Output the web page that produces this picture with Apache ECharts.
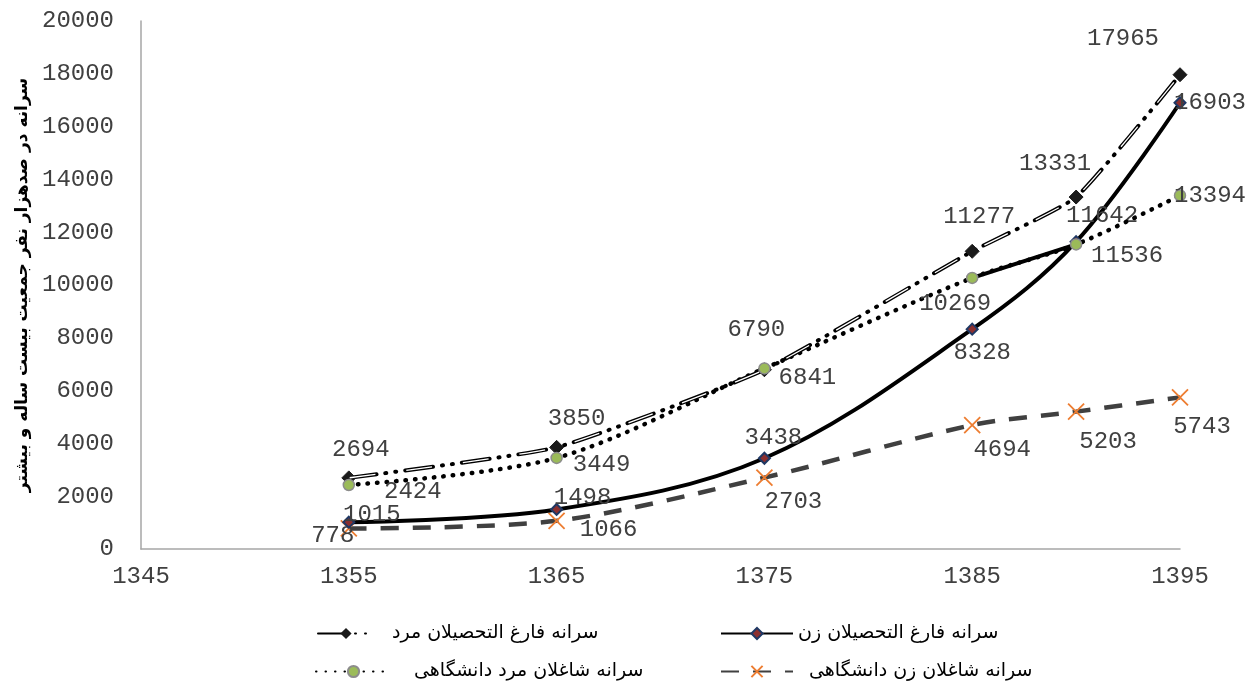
<!DOCTYPE html>
<html>
<head>
<meta charset="utf-8">
<script src="https://cdn.jsdelivr.net/npm/echarts@6/dist/echarts.min.js"></script>
<style>html,body{margin:0;padding:0;background:#fff}#c{width:1257px;height:684px}</style>
</head>
<body>
<div id="c"></div>
<script>
const years = [1355, 1365, 1375, 1385, 1390, 1395];
const maleGrad = [2694, 3850, 6790, 11277, 13331, 17965];
const femaleGrad = [1015, 1498, 3438, 8328, 11642, 16903];
const maleStaff = [2424, 3449, 6841, 10269, 11536, 13394];
const femaleStaff = [778, 1066, 2703, 4694, 5203, 5743];
const names = ['سرانه فارغ التحصیلان مرد', 'سرانه فارغ التحصیلان زن', 'سرانه شاغلان مرد دانشگاهی', 'سرانه شاغلان زن دانشگاهی'];
const yTitle = 'سرانه در صدهزار نفر جمعیت بیست ساله و بیشتر';

// label offsets (styling)
const offMaleGrad = [[12,-28],[20,-29],[-8,-40],[7,-35],[-21,-33],[-57,-36]];
const offFemaleGrad = [[23,-8],[26,-12],[9,-21],[10,23],[26,-26],[30,0]];
const offMaleStaff = [[64,7],[45,7],[43,9],[-17,26],[51,11],[30,0]];
const offFemaleStaff = [[-16,7],[52,9],[29,24],[30,25],[32,30],[22,29]];

const MONO = 'Liberation Mono';
const AR = 'DejaVu Sans';

function pts(vals, offs) {
  return vals.map((v, i) => ({
    value: [years[i], v],
    label: { offset: offs[i] }
  }));
}
const lbl = {
  show: true, position: 'inside', fontFamily: MONO, fontSize: 24, color: '#404040',
  align: 'center', verticalAlign: 'middle',
  formatter: p => String(p.value[1])
};
const MG_DASH = [28, 9, 1, 9, 1, 9];

const chart = echarts.init(document.getElementById('c'));
chart.setOption({
  animation: false,
  backgroundColor: '#fff',
  grid: { left: 141, right: 77, top: 21, bottom: 135, containLabel: false, outerBoundsMode: 'none' },
  xAxis: {
    type: 'value', min: 1345, max: 1395, interval: 10,
    axisLine: { show: true, lineStyle: { color: '#a6a6a6', width: 1.5 } },
    axisTick: { show: false }, splitLine: { show: false },
    axisLabel: { fontFamily: MONO, fontSize: 24, color: '#404040', margin: 16, formatter: v => String(v) }
  },
  yAxis: {
    type: 'value', min: 0, max: 20000, interval: 2000,
    axisLine: { show: true, lineStyle: { color: '#a6a6a6', width: 1.5 } },
    axisTick: { show: false }, splitLine: { show: false },
    axisLabel: { fontFamily: MONO, fontSize: 24, color: '#404040', margin: 27, formatter: v => String(v) },
    name: yTitle, nameLocation: 'middle', nameRotate: 90, nameGap: 110,
    nameTextStyle: { fontFamily: AR, fontSize: 17, fontWeight: 'bold', color: '#000' }
  },
  legend: [
    { data: [names[0]], left: 312, top: 619, itemWidth: 56, pad: 13 },
    { data: [names[1]], left: 715, top: 619, itemWidth: 72, pad: 0 },
    { data: [names[2]], left: 310, top: 657, itemWidth: 75, pad: 18 },
    { data: [names[3]], left: 715, top: 657, itemWidth: 72, pad: 11 }
  ].map(l => {
    const p = l.pad; delete l.pad;
    return Object.assign(l, {
      itemHeight: 14, itemGap: 10,
      textStyle: { fontFamily: AR, fontSize: 19, color: '#000', padding: [0, 0, 0, p] }
    });
  }),
  series: [
    {
      name: names[1], type: 'line', smooth: 0.35, z: 3,
      data: pts(femaleGrad, offFemaleGrad),
      lineStyle: { color: '#000', width: 4 },
      symbol: 'diamond', symbolSize: 11,
      itemStyle: { color: '#8b2f2f', borderColor: '#1f3864', borderWidth: 2 },
      label: lbl
    },
    {
      name: names[0], type: 'line', smooth: 0.15, z: 4,
      data: pts(maleGrad, offMaleGrad),
      lineStyle: { color: '#000', width: 4, type: MG_DASH, cap: 'round' },
      symbol: 'diamond', symbolSize: 14,
      itemStyle: { color: '#1a1a1a', borderColor: '#1a1a1a' },
      label: lbl
    },
    {
      name: 'mgInner', type: 'line', smooth: 0.15, z: 5, silent: true,
      data: maleGrad.map((v, i) => [years[i], v]),
      lineStyle: { color: '#fff', width: 1.3, type: [26, 31], dashOffset: -1 },
      symbol: 'none', label: { show: false }
    },
    {
      name: names[2], type: 'line', smooth: 0.3, z: 4,
      data: pts(maleStaff, offMaleStaff),
      lineStyle: { color: '#000', width: 4.5, type: [0.5, 9], cap: 'round' },
      symbol: 'circle', symbolSize: 11,
      itemStyle: { color: '#9bbb59', borderColor: '#8c8c8c', borderWidth: 1.5 },
      label: lbl
    },
    {
      name: 'seg', type: 'line', z: 3, silent: true,
      data: maleStaff.slice(3, 5).map((v, i) => [years[3 + i], v]),
      lineStyle: { color: '#000', width: 4 }, symbol: 'none', label: { show: false }
    },
    {
      name: names[3], type: 'line', smooth: 0.3, z: 2,
      data: pts(femaleStaff, offFemaleStaff),
      lineStyle: { color: '#404040', width: 4.5, type: [18, 14] },
      symbol: 'path://M0,0L10,10M10,0L0,10', symbolSize: 16,
      itemStyle: { color: 'none', borderColor: '#ed7d31', borderWidth: 1.8 },
      label: lbl
    }
  ]
});
</script>
</body>
</html>
